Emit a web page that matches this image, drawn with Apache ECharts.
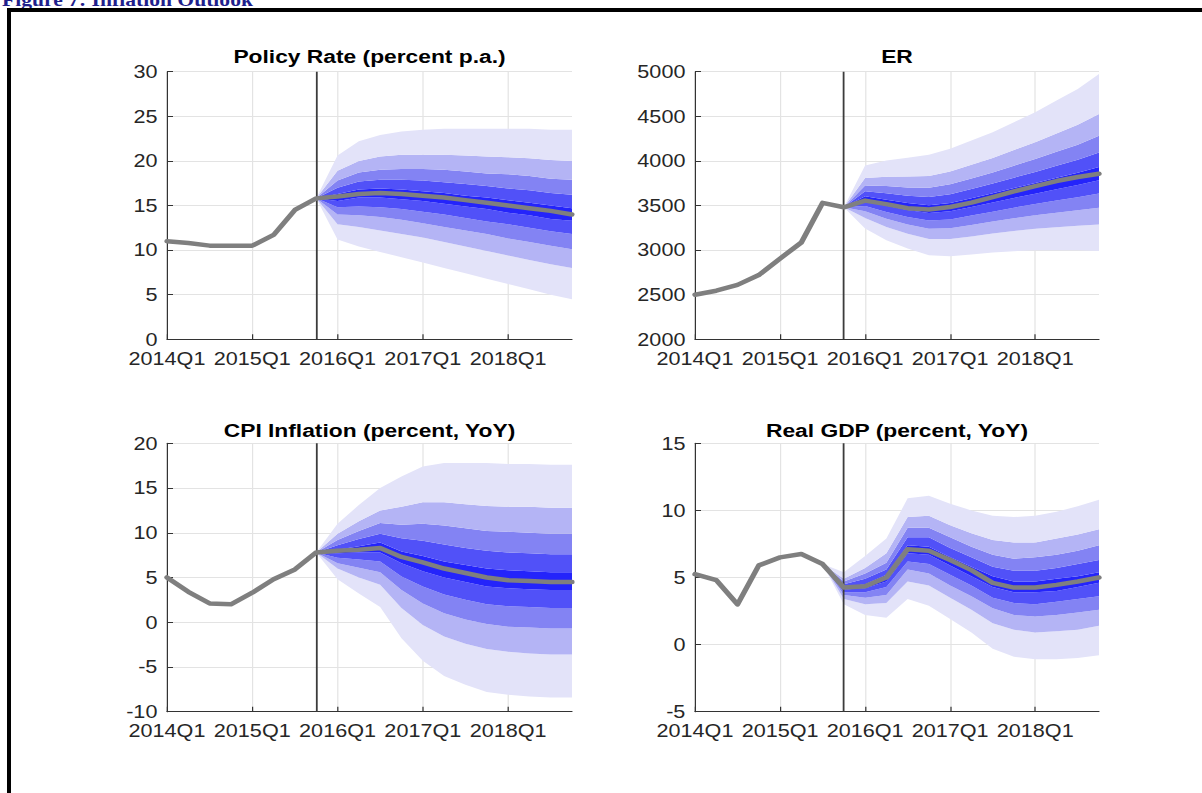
<!DOCTYPE html>
<html>
<head>
<meta charset="utf-8">
<script src="https://cdn.jsdelivr.net/npm/echarts@6/dist/echarts.min.js"></script>
<style>
  html, body { margin: 0; padding: 0; background: #fff; overflow: hidden; }
  #chart { height: 793px; transform-origin: 0 0; }
</style>
</head>
<body>
<div id="chart"></div>
<script>
// ---- data -------------------------------------------------------------
const quarters = [
  '2014Q1', '2014Q2', '2014Q3', '2014Q4',
  '2015Q1', '2015Q2', '2015Q3', '2015Q4',
  '2016Q1', '2016Q2', '2016Q3', '2016Q4',
  '2017Q1', '2017Q2', '2017Q3', '2017Q4',
  '2018Q1', '2018Q2', '2018Q3', '2018Q4'
];
const lastObserved = '2015Q4';

// Policy rate (percent p.a.)
const policyLine = [11.0, 10.8, 10.5, 10.5, 10.5, 11.7, 14.5, 15.8, 16.0, 16.3, 16.4, 16.3, 16.1, 15.9, 15.6, 15.3, 15.0, 14.7, 14.4, 14.0];
const policyFanStart = 7;
const policyU90 = [15.8, 20.6, 22.2, 22.9, 23.3, 23.5, 23.6, 23.6, 23.6, 23.6, 23.6, 23.5, 23.5];
const policyU70 = [15.8, 18.9, 20.0, 20.5, 20.7, 20.7, 20.7, 20.6, 20.5, 20.4, 20.3, 20.1, 20.0];
const policyU50 = [15.8, 17.8, 18.7, 19.0, 19.1, 19.1, 19.0, 18.8, 18.6, 18.5, 18.3, 18.0, 17.9];
const policyU30 = [15.8, 17.0, 17.7, 17.9, 17.9, 17.8, 17.6, 17.4, 17.2, 16.9, 16.7, 16.4, 16.2];
const policyU10 = [15.8, 16.3, 16.8, 16.9, 16.8, 16.6, 16.4, 16.1, 15.9, 15.6, 15.3, 15.0, 14.7];
const policyL10 = [15.8, 15.5, 15.9, 15.9, 15.7, 15.5, 15.2, 14.9, 14.6, 14.2, 13.9, 13.5, 13.3];
const policyL30 = [15.8, 14.8, 14.9, 14.8, 14.6, 14.3, 14.0, 13.6, 13.2, 12.9, 12.5, 12.1, 11.8];
const policyL50 = [15.8, 14.0, 13.9, 13.7, 13.4, 13.0, 12.6, 12.2, 11.8, 11.3, 10.9, 10.5, 10.1];
const policyL70 = [15.8, 12.9, 12.6, 12.2, 11.8, 11.4, 10.9, 10.4, 9.9, 9.4, 8.9, 8.4, 8.0];
const policyL90 = [15.8, 11.2, 10.4, 9.8, 9.2, 8.6, 8.0, 7.4, 6.8, 6.2, 5.6, 5.0, 4.5];

// Exchange rate
const erLine = [2500, 2545, 2610, 2720, 2905, 3085, 3530, 3480, 3555, 3515, 3470, 3455, 3483, 3532, 3595, 3659, 3718, 3774, 3819, 3856];
const erFanStart = 7;
const erU90 = [3480, 3949, 4005, 4035, 4068, 4136, 4229, 4322, 4434, 4546, 4676, 4806, 4974];
const erU70 = [3480, 3807, 3822, 3824, 3832, 3881, 3957, 4033, 4122, 4209, 4307, 4405, 4527];
const erU50 = [3480, 3725, 3718, 3703, 3698, 3737, 3803, 3871, 3947, 4021, 4102, 4182, 4281];
const erU30 = [3480, 3661, 3636, 3610, 3594, 3625, 3684, 3746, 3812, 3876, 3945, 4013, 4093];
const erU10 = [3480, 3604, 3564, 3528, 3503, 3529, 3581, 3637, 3696, 3752, 3810, 3867, 3933];
const erL10 = [3480, 3550, 3496, 3450, 3417, 3436, 3483, 3534, 3585, 3633, 3682, 3729, 3782];
const erL30 = [3480, 3495, 3427, 3372, 3331, 3344, 3387, 3431, 3476, 3517, 3555, 3593, 3634];
const erL50 = [3480, 3435, 3352, 3287, 3238, 3245, 3281, 3320, 3357, 3390, 3419, 3447, 3475];
const erL70 = [3480, 3361, 3260, 3184, 3124, 3124, 3153, 3186, 3214, 3238, 3256, 3273, 3286];
const erL90 = [3480, 3241, 3111, 3017, 2943, 2932, 2950, 2973, 2988, 2999, 2999, 2999, 2991];

// CPI inflation (percent, YoY)
const cpiLine = [5.0, 3.4, 2.1, 2.0, 3.3, 4.8, 5.9, 7.8, 8.0, 8.1, 8.3, 7.3, 6.7, 6.0, 5.5, 5.0, 4.7, 4.6, 4.5, 4.5];
const cpiFanStart = 7;
const cpiU90 = [7.8, 11.0, 13.1, 15.0, 16.3, 17.4, 17.8, 17.8, 17.8, 17.7, 17.7, 17.6, 17.6];
const cpiU70 = [7.8, 9.9, 11.3, 12.5, 12.9, 13.4, 13.4, 13.2, 13.0, 12.9, 12.9, 12.8, 12.8];
const cpiU50 = [7.8, 9.2, 10.2, 11.1, 10.9, 11.0, 10.8, 10.5, 10.2, 10.1, 10.0, 9.9, 9.9];
const cpiU30 = [7.8, 8.6, 9.3, 9.9, 9.4, 9.1, 8.7, 8.3, 8.0, 7.8, 7.7, 7.6, 7.6];
const cpiU10 = [7.8, 8.1, 8.5, 8.9, 7.9, 7.4, 6.8, 6.4, 6.0, 5.8, 5.7, 5.6, 5.6];
const cpiL10 = [7.8, 7.7, 7.8, 7.8, 6.6, 5.7, 5.0, 4.5, 4.0, 3.8, 3.7, 3.6, 3.6];
const cpiL30 = [7.8, 7.2, 7.0, 6.8, 5.1, 4.0, 3.1, 2.5, 2.0, 1.8, 1.7, 1.6, 1.6];
const cpiL50 = [7.8, 6.6, 6.1, 5.6, 3.6, 2.1, 1.0, 0.3, -0.2, -0.5, -0.6, -0.7, -0.7];
const cpiL70 = [7.8, 6.0, 5.0, 4.2, 1.6, -0.3, -1.6, -2.4, -3.0, -3.3, -3.5, -3.6, -3.6];
const cpiL90 = [7.8, 4.8, 3.2, 1.7, -1.8, -4.3, -6.0, -7.0, -7.8, -8.1, -8.3, -8.4, -8.4];

// Real GDP (percent, YoY)
const gdpLine = [5.25, 4.8, 3.0, 5.9, 6.5, 6.75, 6.0, 4.25, 4.35, 5.0, 7.1, 7.0, 6.3, 5.55, 4.6, 4.25, 4.25, 4.45, 4.7, 5.0];
const gdpFanStart = 6;
const gdpU90 = [6.0, 5.4, 6.6, 7.9, 10.9, 11.1, 10.5, 10.0, 9.6, 9.5, 9.6, 9.9, 10.3, 10.8];
const gdpU70 = [6.0, 4.9, 5.7, 6.8, 9.5, 9.6, 8.9, 8.3, 7.8, 7.6, 7.6, 7.9, 8.2, 8.6];
const gdpU50 = [6.0, 4.7, 5.3, 6.1, 8.7, 8.7, 8.0, 7.3, 6.7, 6.4, 6.5, 6.7, 7.0, 7.4];
const gdpU30 = [6.0, 4.5, 4.9, 5.6, 8.0, 8.0, 7.2, 6.5, 5.8, 5.5, 5.5, 5.7, 6.0, 6.3];
const gdpU10 = [6.0, 4.3, 4.5, 5.2, 7.4, 7.3, 6.5, 5.8, 5.1, 4.7, 4.7, 4.9, 5.1, 5.4];
const gdpL10 = [6.0, 4.1, 4.2, 4.7, 6.8, 6.7, 5.9, 5.1, 4.3, 3.9, 3.9, 4.0, 4.3, 4.6];
const gdpL30 = [6.0, 3.9, 3.9, 4.3, 6.2, 6.0, 5.2, 4.4, 3.5, 3.1, 3.0, 3.2, 3.4, 3.6];
const gdpL50 = [6.0, 3.7, 3.5, 3.7, 5.6, 5.3, 4.4, 3.6, 2.7, 2.2, 2.1, 2.2, 2.4, 2.6];
const gdpL70 = [6.0, 3.4, 3.0, 3.1, 4.7, 4.4, 3.5, 2.6, 1.6, 1.1, 0.9, 1.0, 1.1, 1.4];
const gdpL90 = [6.0, 3.0, 2.2, 2.0, 3.4, 2.9, 1.9, 0.9, -0.3, -0.9, -1.1, -1.1, -1.0, -0.8];

// ---- layout & style ----------------------------------------------------
// The figure is laid out on a narrower canvas and widened horizontally.
const SX = 1.2;
const W = 1202, H = 793;
const px = v => v / SX;

const FONT = '"Liberation Sans", Arial, Helvetica, sans-serif';
const fanColors = ['#e3e3f9', '#b4b4f5', '#8383f3', '#5151f8', '#2424fb'];
const lineColor = '#7f7f7f';
const axisColor = '#333333';
const gridColor = '#e3e3e3';

const panels = [
  { title: 'Policy Rate (percent p.a.)', line: policyLine, start: policyFanStart,
    bands: [policyL90, policyL70, policyL50, policyL30, policyL10, policyU10, policyU30, policyU50, policyU70, policyU90],
    min: 0, max: 30, interval: 5, left: 167, top: 71.7, width: 405, height: 267.6, titleY: 56 },
  { title: 'ER', line: erLine, start: erFanStart,
    bands: [erL90, erL70, erL50, erL30, erL10, erU10, erU30, erU50, erU70, erU90],
    min: 2000, max: 5000, interval: 500, left: 695, top: 71.7, width: 404, height: 267.6, titleY: 56 },
  { title: 'CPI Inflation (percent, YoY)', line: cpiLine, start: cpiFanStart,
    bands: [cpiL90, cpiL70, cpiL50, cpiL30, cpiL10, cpiU10, cpiU30, cpiU50, cpiU70, cpiU90],
    min: -10, max: 20, interval: 5, left: 167, top: 443.3, width: 405, height: 268.4, titleY: 430 },
  { title: 'Real GDP (percent, YoY)', line: gdpLine, start: gdpFanStart,
    bands: [gdpL90, gdpL70, gdpL50, gdpL30, gdpL10, gdpU10, gdpU30, gdpU50, gdpU70, gdpU90],
    min: -5, max: 15, interval: 5, left: 695, top: 443.3, width: 404, height: 268.4, titleY: 430 }
];

const grids = [], xAxes = [], yAxes = [], series = [], graphics = [];

panels.forEach((p, gi) => {
  grids.push({ left: px(p.left), top: p.top, width: px(p.width), height: p.height,
               outerBoundsMode: 'none', containLabel: false });

  xAxes.push({
    type: 'category', gridIndex: gi, data: quarters, boundaryGap: false,
    axisLine: { onZero: false, lineStyle: { color: axisColor, width: 1 } },
    axisTick: { show: true, inside: true, length: 5, interval: 3, lineStyle: { color: axisColor } },
    axisLabel: { interval: 3, margin: 10, fontSize: 18, color: '#262626', fontFamily: FONT },
    splitLine: { show: true, interval: 3, lineStyle: { color: gridColor, width: 1 } }
  });

  yAxes.push({
    type: 'value', gridIndex: gi, min: p.min, max: p.max, interval: p.interval,
    axisLine: { show: true, onZero: false, lineStyle: { color: axisColor, width: 1 } },
    axisTick: { show: true, inside: true, length: 5, lineStyle: { color: axisColor } },
    axisLabel: { margin: 8, fontSize: 18, color: '#262626', fontFamily: FONT,
                 formatter: v => String(v) },
    splitLine: { show: true, lineStyle: { color: gridColor, width: 1 } }
  });

  // Fan: an invisible base at the lowest bound, then each band stacked on it.
  const pad = arr => Array(p.start).fill(null).concat(arr);
  const stackId = 'fan' + gi;
  const b = p.bands;
  series.push({
    type: 'line', xAxisIndex: gi, yAxisIndex: gi, stack: stackId, stackStrategy: 'all',
    data: pad(b[0]), symbol: 'none', showSymbol: false,
    lineStyle: { width: 0, opacity: 0 }, silent: true, z: 2, emphasis: { disabled: true }
  });
  for (let k = 1; k < b.length; k++) {
    const width = b[k].map((v, i) => Math.round((v - b[k - 1][i]) * 1000) / 1000);
    const color = fanColors[k <= 5 ? k - 1 : 9 - k];
    series.push({
      type: 'line', xAxisIndex: gi, yAxisIndex: gi, stack: stackId, stackStrategy: 'all',
      data: pad(width), symbol: 'none', showSymbol: false,
      lineStyle: { width: 0, opacity: 0 },
      areaStyle: { color: color, opacity: 1 },
      silent: true, z: 2, emphasis: { disabled: true }
    });
  }

  // Central path with the last-observation marker.
  series.push({
    type: 'line', xAxisIndex: gi, yAxisIndex: gi, data: p.line,
    symbol: 'none', showSymbol: false, silent: true, z: 5,
    lineStyle: { color: lineColor, width: 4.5, cap: 'round', join: 'round' },
    emphasis: { disabled: true },
    markLine: {
      silent: true, symbol: ['none', 'none'], label: { show: false },
      lineStyle: { color: '#3c3c3c', width: 1.5, type: 'solid' },
      emphasis: { disabled: true },
      data: [{ xAxis: lastObserved }]
    }
  });

  graphics.push({
    type: 'text', x: px(p.left + p.width / 2), y: p.titleY, silent: true,
    style: { text: p.title, textAlign: 'center', textVerticalAlign: 'middle',
             font: 'bold 19px ' + FONT, fill: '#000' }
  });
});

// Heading and frame of the figure box.
graphics.push({
  type: 'text', x: px(2), y: 9, silent: true,
  style: { text: 'Figure 7: Inflation Outlook', textAlign: 'left', textVerticalAlign: 'bottom',
           font: 'bold 18px "Liberation Serif", "Times New Roman", serif', fill: '#1f1f8c' }
});
graphics.push({ type: 'rect', silent: true, z: 10, shape: { x: px(7), y: 8, width: px(W - 7), height: 4 }, style: { fill: '#000' } });
graphics.push({ type: 'rect', silent: true, z: 10, shape: { x: px(7), y: 8, width: px(4), height: H - 8 }, style: { fill: '#000' } });

const el = document.getElementById('chart');
el.style.width = px(W) + 'px';
el.style.transform = 'scaleX(' + SX + ')';

const chart = echarts.init(el, null, { renderer: 'svg' });
chart.setOption({
  animation: false,
  backgroundColor: '#fff',
  grid: grids,
  xAxis: xAxes,
  yAxis: yAxes,
  series: series,
  graphic: graphics
});
</script>
</body>
</html>
